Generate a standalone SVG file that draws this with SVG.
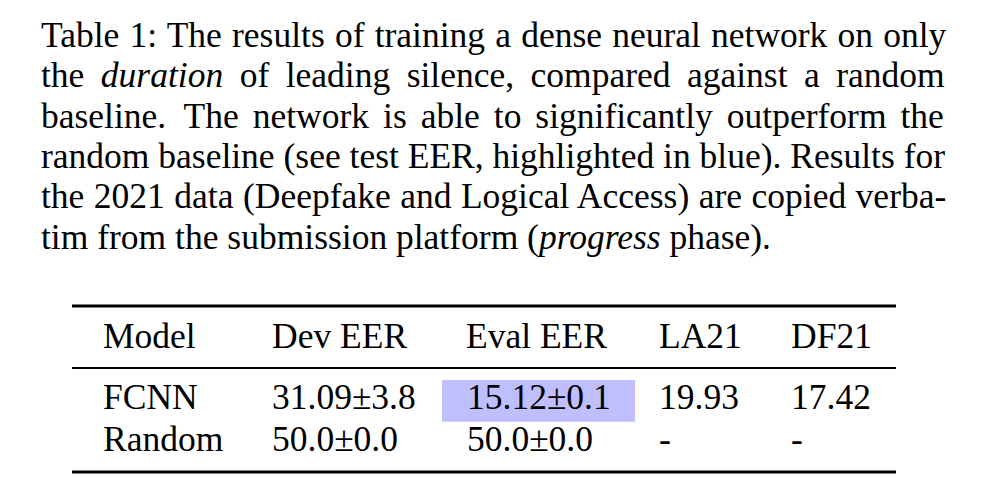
<svg xmlns="http://www.w3.org/2000/svg" width="992" height="499" viewBox="0 0 992 499">
<style>
.heavy{stroke:#000;stroke-width:3}
.light{stroke:#000;stroke-width:1.8}
.cell{font-family:"Liberation Serif","Times New Roman",serif;font-size:35.5px;fill:#000}
</style>
<rect width="992" height="499" fill="#fff"/>
<g id="caption" class="cell">
<text x="41" y="47" word-spacing="1.3">Table 1: The results of training a dense neural network on only</text>
<text x="41" y="87.3" word-spacing="7.6">the <tspan font-style="italic">duration</tspan> of leading silence, compared against a random</text>
<text x="41" y="127.6" word-spacing="5.1">baseline. <tspan dx="4">The</tspan> network is able to significantly outperform the</text>
<text x="41" y="167.9">random baseline (see test EER, highlighted in blue). Results for</text>
<text x="41" y="208.2" word-spacing="0.6">the 2021 data (Deepfake and Logical Access) are copied verba-</text>
<text x="41" y="248.5">tim from the submission platform (<tspan font-style="italic">progress</tspan> phase).</text>
</g>
<g id="table" class="cell">
<rect id="highlight" x="442" y="380" width="193" height="41.7" fill="#bfbfff"/>
<g id="rules">
<line class="heavy" x1="72" y1="306" x2="896" y2="306"/>
<line class="light" x1="72" y1="368" x2="896" y2="368"/>
<line class="heavy" x1="72" y1="472" x2="896" y2="472"/>
</g>
<g id="header">
<text x="103" y="348">Model</text>
<text x="272" y="348">Dev EER</text>
<text x="466" y="348">Eval EER</text>
<text x="659" y="348">LA21</text>
<text x="791" y="348">DF21</text>
</g>
<g id="row-fcnn">
<text x="103" y="408.5">FCNN</text>
<text x="272" y="408.5">31.09±3.8</text>
<text x="467" y="408.5">15.12±0.1</text>
<text x="659" y="408.5">19.93</text>
<text x="791" y="408.5">17.42</text>
</g>
<g id="row-random">
<text x="103" y="451">Random</text>
<text x="272" y="451">50.0±0.0</text>
<text x="467" y="451">50.0±0.0</text>
<text x="659" y="451">-</text>
<text x="791" y="451">-</text>
</g>
</g>
</svg>
